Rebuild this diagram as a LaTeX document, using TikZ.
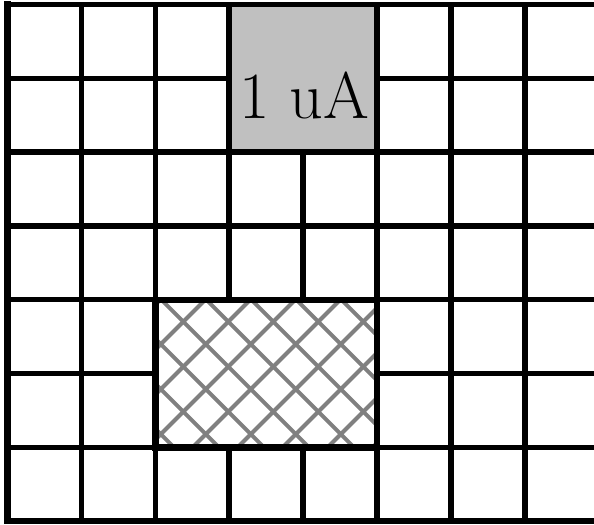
\documentclass[tikz,border=0pt]{standalone}
\begin{document}
\begin{tikzpicture}[x=0.75pt,y=-0.75pt,
  gridline/.style={line width=4.1pt, black, line cap=rect},
  hatchline/.style={line width=3pt, color=hatchgray},
  blockborder/.style={line width=4.8pt, black, line cap=rect},
  labeltext/.style={anchor=base west, inner sep=0pt, font=\fontsize{49.5}{50}\selectfont}]
\definecolor{boxgray}{HTML}{C0C0C0}
\definecolor{hatchgray}{HTML}{808080}
\useasboundingbox (0,0) rectangle (594,525);
\clip (0,0) rectangle (594,525);
\fill[white] (0,0) rectangle (594,525);
% grid
\foreach \i in {0,...,8} \draw[gridline] ({7.5+73.9*\i},4.5) -- ({7.5+73.9*\i},521);
\foreach \j in {0,...,7} \draw[gridline] (7.5,{4.5+73.8*\j}) -- (610,{4.5+73.8*\j});
\draw[line width=5.2pt, line cap=rect] (7.5,4.5) -- (7.5,521);
% gray block
\fill[boxgray] (232.05,7.25) rectangle (374.35,149.35);
% hatched block
\begin{scope}
  \clip (155.3,299.7) rectangle (377.1,447.3);
  \fill[white] (155.3,299.7) rectangle (377.1,447.3);
  \foreach \k in {-10,...,10} {
    \draw[hatchline] ({183.3+45*\k-250},{321.7-250}) -- ({183.3+45*\k+250},{321.7+250});
    \draw[hatchline] ({183.3+45*\k-250},{321.7+250}) -- ({183.3+45*\k+250},{321.7-250});
  }
\end{scope}
\draw[blockborder] (155.3,299.7) rectangle (377.1,447.3);
% label
\node[labeltext] (label) at (239,118) {1 uA};
\end{tikzpicture}
\end{document}
